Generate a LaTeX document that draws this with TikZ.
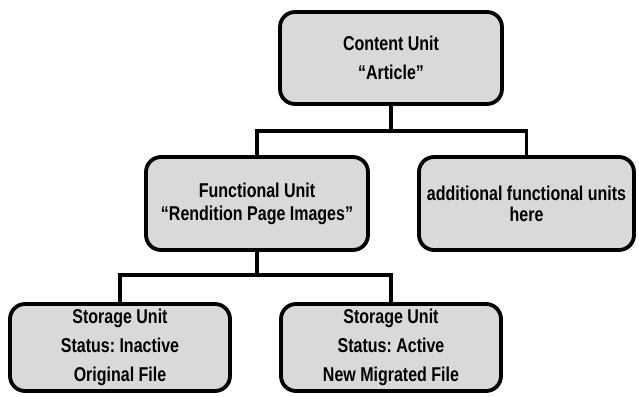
\documentclass[tikz,border=0pt]{standalone}
\usepackage{fontspec}
\newfontfamily\unitfont{Liberation Sans}[FakeStretch=0.8]
\definecolor{unitfill}{RGB}{217,217,217}
\frenchspacing
\begin{document}
\begin{tikzpicture}[x=1pt,y=-1pt,
  unit/.style={draw=black, line width=3.8pt, fill=unitfill, rounded corners=15pt,
    inner sep=0pt, align=center, text=black,
    font=\unitfont\bfseries\fontsize{20}{29}\selectfont},
  wide/.style={minimum width=222pt, minimum height=92pt},
  narrowunit/.style={minimum width=220pt, minimum height=87pt},
  link/.style={draw=black, line width=3.8pt},
  ]
\useasboundingbox (0,0) rectangle (639,396);

% hierarchy boxes
\node[unit, wide] (content) at (391,58) {Content Unit\\“Article”};
\node[unit, wide, minimum height=93pt] (func) at (257,203.5) {Functional Unit\\[-6pt]“Rendition Page Images”};
\node[unit, minimum width=215pt, minimum height=93pt] (addl) at (526.5,203.5) {additional functional units\\[-8pt]here};
\node[unit, narrowunit] (stold) at (120,347.5) {Storage Unit\\Status: Inactive\\Original File};
\node[unit, narrowunit] (stnew) at (391,347.5) {Storage Unit\\Status: Active\\New Migrated File};

% branch points of the tree
\coordinate (split1) at (391,131);
\coordinate (split2) at (257,275);

% connectors
\draw[link] (content.south) -- (split1);
\draw[link] (func.north) |- (split1) -| (addl.north);
\draw[link] (func.south) -- (split2);
\draw[link] (stold.north) |- (split2) -| (stnew.north);
\end{tikzpicture}
\end{document}
